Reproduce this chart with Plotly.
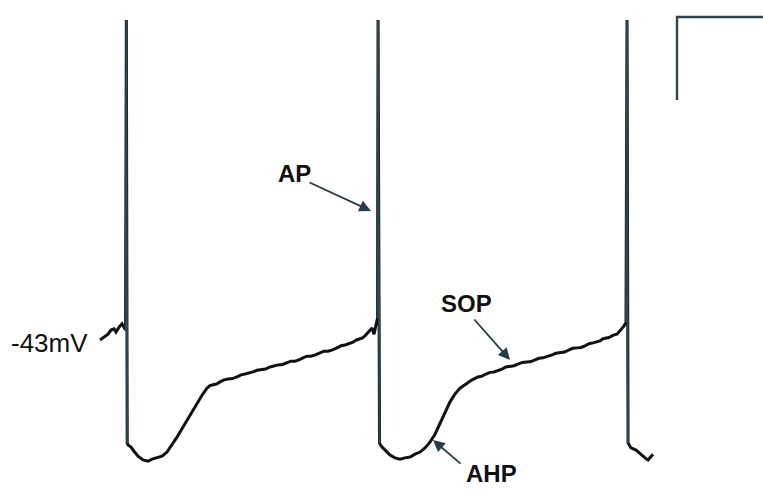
import plotly.graph_objects as go

# Membrane potential recording: time (ms) and voltage (mV)
t_ms = [
    # before first spike
    0.0, 4.7, 9.3, 12.8, 16.3, 18.6, 22.1, 25.6, 27.9, 29.7,
    # spike 1
    30.6, 31.6,
    # AHP and slow depolarisation
    32.6, 36.0, 39.5, 44.2, 50.0, 55.8, 60.5, 66.3, 72.1, 77.9,
    83.7, 89.5, 95.3, 101.2, 107.0, 112.8, 118.6, 124.4, 127.9, 131.4,
    135.5, 139.5, 144.2, 148.8, 154.0, 159.3, 164.0, 168.6, 173.2, 177.9,
    182.5, 187.2, 192.5, 197.7, 202.3, 207.0, 212.2, 217.4, 222.0, 226.7,
    231.3, 236.0, 240.6, 245.3, 250.5, 255.8, 260.4, 265.1, 270.3, 275.6,
    280.2, 284.9, 289.5, 294.2, 298.2, 302.3, 305.2, 308.1, 312.8, 316.3,
    318.6, 320.9, 322.7,
    # spike 2
    323.3, 325.0,
    # AHP and slow depolarisation
    326.7, 331.4, 337.2, 343.0, 348.8, 354.7, 360.5, 366.3, 372.1, 377.9,
    383.7, 389.5, 395.3, 401.2, 407.0, 412.8, 418.6, 425.6, 432.6, 439.5,
    444.2, 448.8, 453.5, 458.1, 462.8, 467.4, 472.0, 476.7, 481.3, 486.0,
    491.2, 496.5, 501.1, 505.8, 510.4, 515.1, 520.3, 525.6, 530.2, 534.9,
    540.1, 545.3, 550.0, 554.7, 559.3, 564.0, 568.6, 573.3, 577.3, 581.4,
    584.9, 588.4, 591.8, 595.3, 598.2, 601.2, 605.8, 609.3, 611.6,
    # spike 3
    612.8, 614.0,
    # start of next AHP
    617.4, 623.3, 629.1, 633.7, 637.2, 640.7, 643.0,
]
v_mv = [
    -43.0, -42.3, -41.6, -40.6, -40.3, -41.1, -39.9, -39.1, -39.9, -40.6,
    34.1, -67.8,
    -68.3, -68.8, -69.8, -71.0, -71.9, -72.2, -71.7, -71.4, -71.0, -70.0,
    -68.3, -66.4, -64.4, -62.3, -60.4, -58.2, -56.3, -54.6, -54.0, -53.8,
    -53.6, -53.1, -52.6, -52.4, -52.3, -51.9, -51.4, -51.2, -51.0, -50.7,
    -50.3, -50.2, -50.0, -49.5, -49.2, -49.0, -48.9, -48.5, -48.1, -48.1,
    -47.8, -47.3, -46.9, -46.9, -46.6, -46.1, -45.7, -45.7, -45.4, -44.9,
    -44.4, -44.2, -43.9, -43.5, -43.0, -42.8, -42.5, -42.0, -40.8, -40.1,
    -41.6, -39.4, -37.7,
    34.1, -67.8,
    -68.5, -69.5, -70.7, -71.4, -71.7, -71.4, -71.2, -70.5, -70.0, -69.0,
    -67.6, -65.7, -63.2, -60.6, -57.9, -56.0, -54.6, -53.6, -52.6, -51.9,
    -51.7, -51.2, -50.8, -50.7, -50.4, -50.0, -49.5, -49.3, -49.2, -48.8,
    -48.4, -48.3, -48.2, -47.8, -47.4, -47.3, -47.0, -46.6, -46.2, -46.1,
    -45.9, -45.4, -45.0, -44.9, -44.8, -44.4, -43.9, -43.7, -43.5, -43.2,
    -42.7, -42.5, -42.4, -42.0, -41.7, -41.6, -40.6, -39.6, -38.7,
    34.1, -67.8,
    -69.0, -69.5, -70.7, -71.4, -71.9, -71.2, -70.5,
]

# Resting level label
rest_label = "-43mV"
rest_mv = -43.7

# Scale bar: 100 ms horizontal, 20 mV vertical
bar_ms = 100
bar_mv = 20
bar_corner = (670.9, 34.8)

# Labelled features: (text, text position, arrow tail, arrow head)
features = [
    ("AP", (226.7, -3.0), (241.9, -4.9), (315.1, -11.9)),
    ("SOP", (426.7, -34.1), (433.7, -37.7), (476.7, -47.8)),
    ("AHP", (454.7, -75.1), (420.9, -73.1), (387.2, -67.1)),
]

trace_color = "#111111"
spike_color = "#2e4450"

fig = go.Figure()
fig.add_trace(go.Scatter(
    x=t_ms, y=v_mv, mode="lines",
    line=dict(color=trace_color, width=3.0),
    hoverinfo="skip", showlegend=False,
))

# Spikes are drawn thinner, on top of the main trace
for i, v in enumerate(v_mv):
    if v > 0:
        fig.add_trace(go.Scatter(
            x=t_ms[i - 1:i + 2], y=v_mv[i - 1:i + 2], mode="lines",
            line=dict(color=spike_color, width=2.0),
            hoverinfo="skip", showlegend=False,
        ))

# Scale bar
cx, cy = bar_corner
fig.add_trace(go.Scatter(
    x=[cx + bar_ms, cx, cx], y=[cy, cy, cy - bar_mv], mode="lines",
    line=dict(color=spike_color, width=2.4),
    hoverinfo="skip", showlegend=False,
))

annotations = [
    dict(x=-12.0, y=rest_mv, text=rest_label, showarrow=False,
         xanchor="right", yanchor="middle",
         font=dict(family="Liberation Sans, Arial", size=26, color="#111111")),
]
for label, (tx, ty), (ax, ay), (hx, hy) in features:
    annotations.append(dict(
        x=tx, y=ty, text=f"<b>{label}</b>", showarrow=False,
        xanchor="center", yanchor="middle",
        font=dict(family="Liberation Sans, Arial", size=24, color="#111111"),
    ))
    annotations.append(dict(
        x=hx, y=hy, ax=ax, ay=ay, axref="x", ayref="y", text="",
        showarrow=True, arrowhead=2, arrowsize=1.3, arrowwidth=1.8,
        arrowcolor="#2a3a44", standoff=0, startstandoff=0,
    ))

fig.update_layout(
    width=763, height=494,
    margin=dict(l=0, r=0, t=0, b=0, pad=0),
    paper_bgcolor="white", plot_bgcolor="white",
    xaxis=dict(range=[-116.3, 770.9], visible=False, fixedrange=True),
    yaxis=dict(range=[-80.1, 38.9], visible=False, fixedrange=True),
    annotations=annotations,
)

fig.write_html("out.html")
